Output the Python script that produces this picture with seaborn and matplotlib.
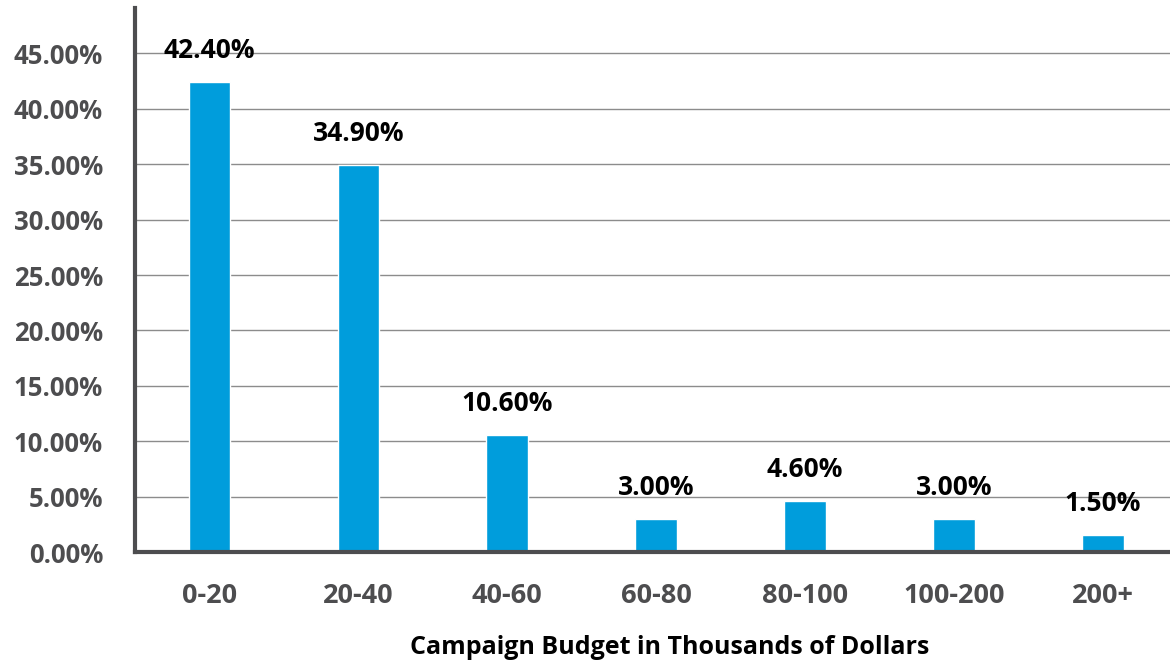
import matplotlib.pyplot as plt
import seaborn as sns
import pandas as pd
from matplotlib.ticker import FuncFormatter

# Chart data
budgets = ['0-20', '20-40', '40-60', '60-80', '80-100', '100-200', '200+']
shares = [42.4, 34.9, 10.6, 3.0, 4.6, 3.0, 1.5]
y_ticks = [0, 5, 10, 15, 20, 25, 30, 35, 40, 45]

df = pd.DataFrame({'Budget': budgets, 'Share': shares})

sns.set_theme(style='white')
plt.rcParams['font.family'] = ['Open Sans', 'DejaVu Sans']

fig = plt.figure(figsize=(11.7, 6.7), dpi=100)
ax = fig.add_axes([0.1154, 0.176, 0.8846, 0.812])

sns.barplot(data=df, x='Budget', y='Share', color='#009ddc', saturation=1,
            width=0.28, ax=ax)

# value labels above bars
for i, v in enumerate(shares):
    ax.annotate(f'{v:.2f}%', xy=(i, v), xytext=(0, 13), textcoords='offset points',
                ha='center', va='bottom', fontsize=19, fontweight='bold', color='black')

ax.set_ylim(0, 49.1)
ax.set_xlim(-0.5, 6.45)
ax.set_yticks(y_ticks)
ax.yaxis.set_major_formatter(FuncFormatter(lambda v, p: f'{v:.2f}%'))
ax.grid(axis='y', color='#8c8c8c', linewidth=1)
ax.set_axisbelow(True)

for s in ['top', 'right']:
    ax.spines[s].set_visible(False)
for s in ['left', 'bottom']:
    ax.spines[s].set_color('#4d4d4f')
    ax.spines[s].set_linewidth(3)

ax.tick_params(axis='both', length=0, labelcolor='#4d4d4f')
ax.tick_params(axis='y', pad=23, labelsize=18.5)
ax.tick_params(axis='x', pad=22, labelsize=19.5)
for lbl in ax.get_xticklabels() + ax.get_yticklabels():
    lbl.set_fontweight('bold')

ax.set_ylabel('')
ax.set_xlabel('Campaign Budget in Thousands of Dollars', fontsize=18,
              fontweight='bold', color='black')
ax.xaxis.set_label_coords(0.517, -0.152)

fig.savefig('out.png', dpi=100)
